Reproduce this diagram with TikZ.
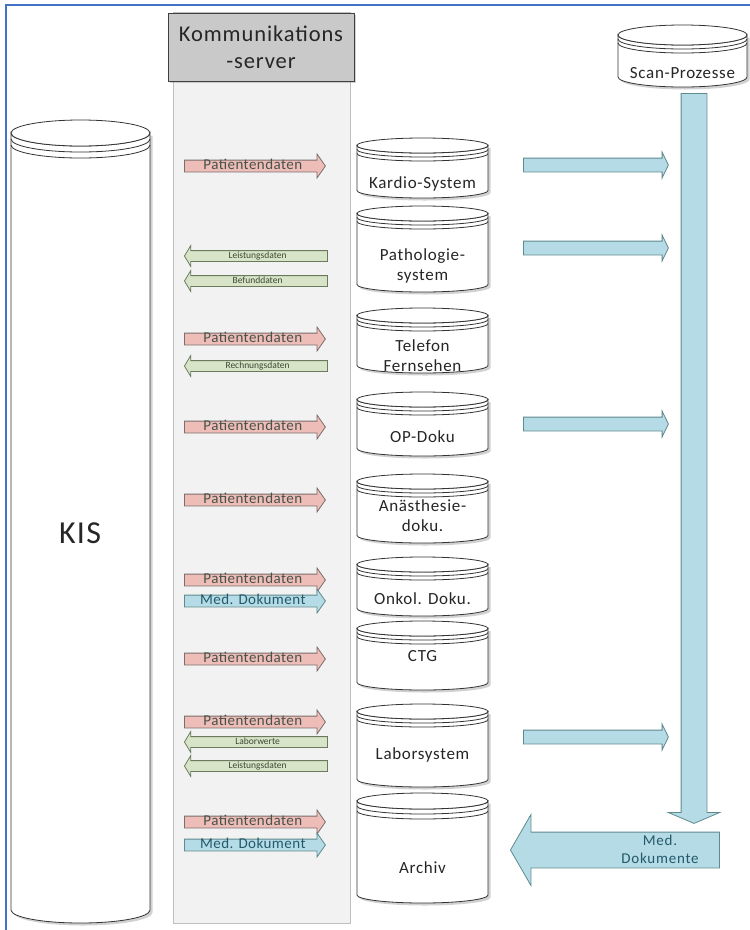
\documentclass[tikz,border=0pt]{standalone}
\usepackage{fontspec}
\setmainfont{Carlito}
\usetikzlibrary{shapes.arrows,shadows}
\definecolor{frameblue}{HTML}{4472C4}
\definecolor{colfill}{HTML}{F2F2F2}
\definecolor{colline}{HTML}{BFBFBF}
\definecolor{headfill}{HTML}{C9C9C9}
\definecolor{pinkfill}{HTML}{EFBDB8}
\definecolor{pinkline}{HTML}{7A6E6C}
\definecolor{pinktext}{HTML}{46524A}
\definecolor{greenfill}{HTML}{D8E4C8}
\definecolor{greenline}{HTML}{6A7A5C}
\definecolor{greentext}{HTML}{3C4A32}
\definecolor{bluefill}{HTML}{B5DCE6}
\definecolor{blueline}{HTML}{5E8A8E}
\definecolor{bluetext}{HTML}{23596A}
\definecolor{cylline}{HTML}{333333}
\newcommand{\dbcyl}[6]{%
  \pgfmathsetmacro\cylcx{(#1+#2)/2}%
  \pgfmathsetmacro\cylrx{(#2-#1)/2}%
  \pgfmathsetmacro\cylyt{#3+#5}%
  \pgfmathsetmacro\cylyb{#4-#5}%
  \fill[black, opacity=0.18] (#1+2.5,\cylyt+2.5) -- (#1+2.5,\cylyb+2.5) arc[start angle=180,end angle=0,x radius=\cylrx,y radius=#5] -- (#2+2.5,\cylyt+2.5) -- cycle;
  \draw[cylstroke, fill=white] (#1,\cylyt) -- (#1,\cylyb) arc[start angle=180,end angle=0,x radius=\cylrx,y radius=#5] -- (#2,\cylyt) arc[start angle=0,end angle=180,x radius=\cylrx,y radius=#5] -- cycle;
  \draw[cylstroke, fill=white] (\cylcx,\cylyt) ellipse[x radius=\cylrx, y radius=#5];
  \draw[cylstroke] (#1,\cylyt+#6) arc[start angle=180,end angle=0,x radius=\cylrx,y radius=#5];
  \draw[cylstroke] (#1,\cylyt+2*#6) arc[start angle=180,end angle=0,x radius=\cylrx,y radius=#5];
}
\begin{document}
\begin{tikzpicture}[x=1pt,y=-1pt,
  cylstroke/.style={draw=cylline, line width=0.8pt},
  cyllabel/.style={font=\fontsize{17}{20}\selectfont\addfontfeature{LetterSpace=4}, align=center, text=black!85, inner sep=0pt},
  parrow/.style={single arrow, draw=pinkline, fill=pinkfill, text=pinktext,
    font=\fontsize{15}{15}\selectfont\addfontfeature{LetterSpace=3},
    text height=8pt, text depth=2pt, inner ysep=0.5pt, inner xsep=1pt,
    single arrow head extend=6pt, single arrow tip angle=110,
    minimum height=141pt, anchor=tail, line width=0.8pt},
  barrow/.style={parrow, draw=blueline, fill=bluefill, text=bluetext},
  garrow/.style={single arrow, shape border rotate=180, draw=greenline, fill=greenfill, text=greentext,
    font=\fontsize{9.5}{9.5}\selectfont,
    text height=6.5pt, text depth=1.5pt, inner ysep=1pt, inner xsep=1pt,
    single arrow head extend=5pt, single arrow tip angle=118,
    minimum height=143pt, anchor=tip, line width=0.8pt},
  bigarrow/.style={single arrow, draw=blueline, fill=bluefill, line width=0.8pt,
    inner sep=6.5pt, text height=0pt, text depth=0pt,
    single arrow head extend=6pt, single arrow tip angle=128,
    minimum height=145pt, anchor=tail}
]
\useasboundingbox (0,0) rectangle (750,930);
\fill[white] (0,0) rectangle (750,930);
% frame
\draw[frameblue, line width=2pt] (6,930) -- (6,5) -- (750,5);
% server column
\node[draw=colline, fill=colfill, line width=0.8pt, minimum width=177pt, minimum height=911pt, inner sep=0pt] (column) at (261.5,467.5) {};
\node[draw=black!75, fill=headfill, line width=0.8pt, minimum width=186pt, minimum height=68pt,
  drop shadow={shadow xshift=2pt, shadow yshift=-2pt, opacity=0.35},
  align=center, font=\fontsize{22.5}{27}\selectfont\addfontfeature{LetterSpace=4}, text=black!85] (server) at (261,47) {Kommunikations\\-server};
% KIS
\dbcyl{11}{150}{120}{923}{13}{6}
\node[font=\fontsize{32}{32}\selectfont\addfontfeature{LetterSpace=4}, text=black!85] (kis) at (80,533) {KIS};
% Scan
\dbcyl{618}{747}{25}{87}{10}{4}
\node[cyllabel] (scan) at (682.5,73) {Scan-Prozesse};
% systems
\dbcyl{357}{488}{138}{198}{7.5}{4}
\node[cyllabel] (kardio) at (422.5,184) {Kardio-System};
\dbcyl{357}{488}{206}{292}{7.5}{4}
\node[cyllabel] (patho) at (422.5,266) {Pathologie-\\system};
\dbcyl{357}{488}{308}{373}{7.5}{4}
\node[cyllabel] (telefon) at (422.5,356) {Telefon\\Fernsehen};
\dbcyl{357}{488}{392}{456}{7.5}{4}
\node[cyllabel] (op) at (422.5,437) {OP-Doku};
\dbcyl{357}{488}{474}{543}{7.5}{4}
\node[cyllabel] (anae) at (422.5,516) {Anästhesie-\\doku.};
\dbcyl{357}{488}{557}{616}{7.5}{4}
\node[cyllabel] (onkol) at (422.5,599) {Onkol. Doku.};
\dbcyl{357}{488}{621}{690}{7.5}{4}
\node[cyllabel] (ctg) at (422.5,656) {CTG};
\dbcyl{357}{488}{704}{787}{7.5}{4}
\node[cyllabel] (labor) at (422.5,755) {Laborsystem};
\dbcyl{357}{488}{793}{903}{8}{5}
\node[cyllabel] (archiv) at (422.5,868) {Archiv};
% server arrows
\node[parrow] (p1) at (184,166) {Patientendaten};
\node[garrow] (g1) at (184,256) {Leistungsdaten};
\node[garrow] (g2) at (184,281) {Befunddaten};
\node[parrow] (p2) at (184,339) {Patientendaten};
\node[garrow] (g3) at (184,366) {Rechnungsdaten};
\node[parrow] (p3) at (184,427) {Patientendaten};
\node[parrow] (p4) at (184,500) {Patientendaten};
\node[parrow] (p5) at (184,580) {Patientendaten};
\node[barrow] (b1) at (184,601) {Med. Dokument};
\node[parrow] (p6) at (184,659) {Patientendaten};
\node[parrow] (p7) at (184,722) {Patientendaten};
\node[garrow] (g4) at (184,742) {Laborwerte};
\node[garrow] (g5) at (184,766) {Leistungsdaten};
\node[parrow] (p8) at (184,822) {Patientendaten};
\node[barrow] (b2) at (184,845) {Med. Dokument};
% scan arrows
\node[bigarrow] (s1) at (523,165) {};
\node[bigarrow] (s2) at (523,248) {};
\node[bigarrow] (s3) at (523,424) {};
\node[bigarrow] (s4) at (523,737) {};
\node[single arrow, shape border rotate=270, draw=blueline, fill=bluefill, line width=0.8pt,
  inner sep=12.5pt, text height=0pt, text depth=0pt,
  single arrow head extend=13pt, single arrow tip angle=134,
  minimum height=730pt, anchor=tail] (down) at (694,93) {};
\node[single arrow, shape border rotate=180, draw=blueline, fill=bluefill, line width=0.8pt,
  inner sep=17.5pt, text height=0pt, text depth=0pt,
  single arrow head extend=17.5pt, single arrow tip angle=120,
  minimum height=209pt, anchor=tip] (back) at (510,850) {};
\node[font=\fontsize{15}{18}\selectfont\addfontfeature{LetterSpace=5}, text=bluetext, align=center] (medtxt) at (660,849) {Med.\\Dokumente};
\end{tikzpicture}
\end{document}
